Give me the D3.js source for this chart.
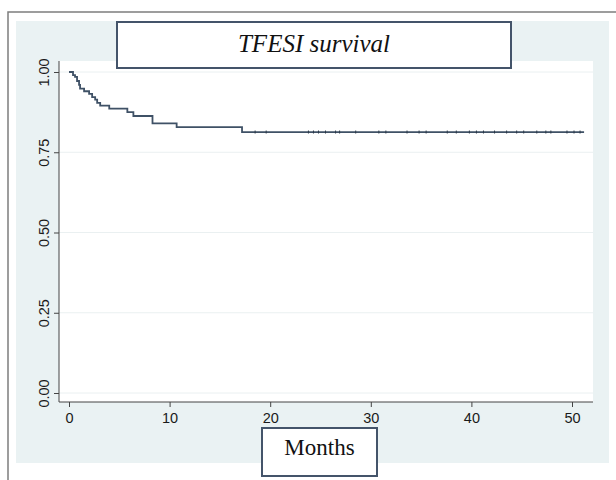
<!DOCTYPE html>
<html>
<head>
<meta charset="utf-8">
<script src="https://cdn.jsdelivr.net/npm/d3@7"></script>
<style>
    body { margin: 0; background: #fff; }
    svg { display: block; }
</style>
</head>
<body>
<div id="chart"></div>
<script>
(function () {
    "use strict";
    // Kaplan-Meier steps (time in months, survival)
    var stepTimes = [0, 0.4, 0.6, 0.8, 1.0, 1.1, 1.5, 2.0, 2.3, 2.6, 2.8, 3.1, 4.0, 5.8, 6.4, 8.3, 10.7, 17.2],
        stepSurv = [1, 0.99, 0.985, 0.972, 0.96, 0.948, 0.94, 0.932, 0.922, 0.914, 0.904, 0.895, 0.886, 0.875, 0.863, 0.84, 0.828, 0.813],
        lastTime = 51.2,
        // censored observations on the flat tail
        censorTimes = [18.5, 19.6, 23.8, 24.3, 24.8, 25.5, 26.5, 26.9, 28.5, 30.8, 31.5, 33.6, 34.8, 35.5, 37.6, 38.5, 39.8, 40.5,
            41.2, 42.3, 43.5, 44.5, 45.2, 46.5, 47.4, 47.9, 49.5, 50.2, 50.8],
        xTicks = [0, 10, 20, 30, 40, 50],
        yTicks = [0, 0.25, 0.5, 0.75, 1],
        titleText = "TFESI survival",
        xLabel = "Months";

    var width = 616, height = 480,
        plot = { left: 59, right: 593, top: 61, bottom: 402 },
        lineColor = "#3f5166";

    var svg = d3.select("#chart").append("svg")
        .attr("width", width)
        .attr("height", height);

    // outer frame and graph region
    svg.append("rect")
        .attr("x", 8).attr("y", 12)
        .attr("width", 640).attr("height", 500)
        .attr("fill", "#fff")
        .attr("stroke", "#7d7d7d")
        .attr("stroke-width", 1.5);

    svg.append("rect")
        .attr("x", 16).attr("y", 21)
        .attr("width", 593).attr("height", 442)
        .attr("fill", "#eaf2f3");

    svg.append("rect")
        .attr("x", plot.left).attr("y", plot.top)
        .attr("width", plot.right - plot.left)
        .attr("height", plot.bottom - plot.top)
        .attr("fill", "#fff");

    var x = d3.scaleLinear().domain([0, 50]).range([69, 572]),
        y = d3.scaleLinear().domain([0, 1]).range([393, 72]);

    // grid lines
    svg.append("g").selectAll("line").data(yTicks).enter().append("line")
        .attr("x1", plot.left).attr("x2", plot.right)
        .attr("y1", function (d) { return y(d); })
        .attr("y2", function (d) { return y(d); })
        .attr("stroke", "#eaf0f1")
        .attr("stroke-width", 1);

    // axes
    var xAxis = svg.append("g")
        .attr("transform", "translate(0," + plot.bottom + ")")
        .call(d3.axisBottom(x).tickValues(xTicks).tickSize(5).tickSizeOuter(0).tickPadding(6));
    xAxis.select(".domain").remove();
    xAxis.append("line")
        .attr("x1", plot.left).attr("x2", plot.right)
        .attr("stroke", "#444");

    var yAxis = svg.append("g")
        .attr("transform", "translate(" + plot.left + ",0)")
        .call(d3.axisLeft(y).tickValues(yTicks).tickSize(5).tickSizeOuter(0).tickFormat(d3.format(".2f")));
    yAxis.select(".domain").remove();
    yAxis.append("line")
        .attr("y1", plot.top).attr("y2", plot.bottom)
        .attr("stroke", "#444");
    yAxis.selectAll("text")
        .attr("x", null).attr("dy", null)
        .attr("text-anchor", "middle")
        .attr("transform", "translate(-10,0) rotate(-90)");

    svg.selectAll(".tick line").attr("stroke", "#444");
    svg.selectAll(".tick text")
        .attr("fill", "#1a1a1a")
        .style("font-family", "'Liberation Sans', Arial, sans-serif")
        .style("font-size", "14.5px");

    // survival curve
    var pts = stepTimes.map(function (t, i) { return [t, stepSurv[i]]; });
    pts.push([lastTime, stepSurv[stepSurv.length - 1]]);

    var line = d3.line()
        .x(function (d) { return x(d[0]); })
        .y(function (d) { return y(d[1]); })
        .curve(d3.curveStepAfter);

    svg.append("path")
        .datum(pts)
        .attr("d", line)
        .attr("fill", "none")
        .attr("stroke", lineColor)
        .attr("stroke-width", 1.8);

    var tail = stepSurv[stepSurv.length - 1];
    svg.append("g").selectAll("line").data(censorTimes).enter().append("line")
        .attr("x1", function (d) { return x(d); })
        .attr("x2", function (d) { return x(d); })
        .attr("y1", y(tail) - 1.5)
        .attr("y2", y(tail) + 1.5)
        .attr("stroke", "#2c3a4a")
        .attr("stroke-width", 1);

    // title box
    svg.append("rect")
        .attr("x", 117).attr("y", 22)
        .attr("width", 394).attr("height", 46)
        .attr("fill", "#fff")
        .attr("stroke", "#44546a")
        .attr("stroke-width", 2);
    svg.append("text")
        .attr("x", 314).attr("y", 52)
        .attr("text-anchor", "middle")
        .style("font-family", "'Liberation Serif', 'Times New Roman', serif")
        .style("font-style", "italic")
        .style("font-size", "25px")
        .attr("fill", "#111")
        .text(titleText);

    // x label box
    svg.append("rect")
        .attr("x", 262).attr("y", 428)
        .attr("width", 115).attr("height", 48)
        .attr("fill", "#fff")
        .attr("stroke", "#44546a")
        .attr("stroke-width", 2);
    svg.append("text")
        .attr("x", 319.5).attr("y", 455)
        .attr("text-anchor", "middle")
        .style("font-family", "'Liberation Serif', 'Times New Roman', serif")
        .style("font-size", "23px")
        .attr("fill", "#111")
        .text(xLabel);
}());
</script>
</body>
</html>
